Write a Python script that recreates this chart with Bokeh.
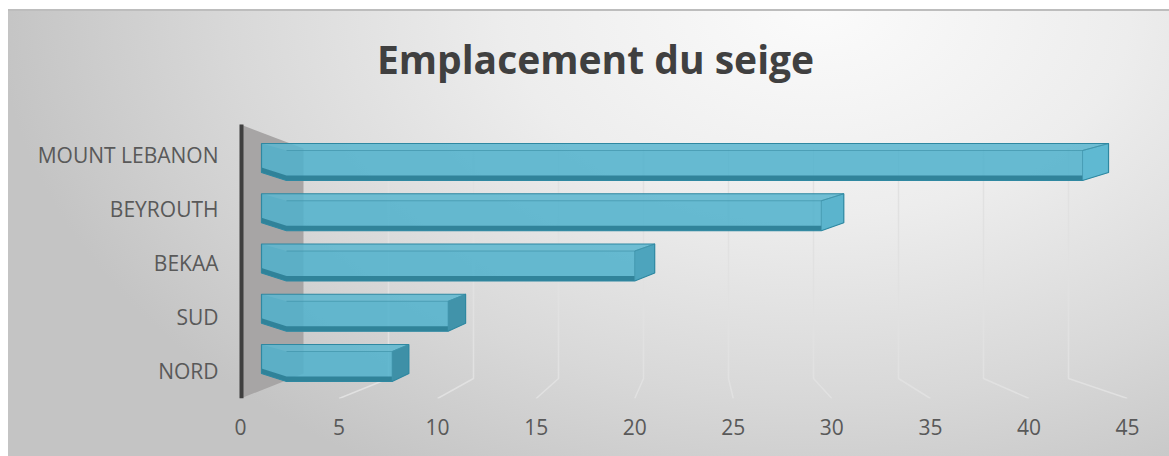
from bokeh.plotting import figure
from bokeh.models import Range1d, FixedTicker
from bokeh.core.properties import value
from bokeh.embed import file_html
from bokeh.resources import INLINE

# ---------------- data ----------------
categories = ["NORD", "SUD", "BEKAA", "BEYROUTH", "MOUNT LEBANON"]
values = [7, 10, 20, 30, 44]
x_ticks = [0, 5, 10, 15, 20, 25, 30, 35, 40, 45]
title_text = "Emplacement du seige"

# ---------------- geometry (page pixels) ----------------
WIN_W, WIN_H = 1169, 456
FRAME_L, FRAME_R, FRAME_T, FRAME_B = 236, 1127, 11, 398
AXIS_TOP = 124
FRONT0, FRONT45 = 240, 1127       # front (axis) plane
BACK0, BACK45 = 303, 1068         # back wall plane
FACE0, FACE_PX = 261, 18.66       # bar front-face plane
LAB0, LAB4 = 370, 154             # category label centres (row 0 / row 4)
BAR0, BAR4 = 366, 165             # bar face centres (row 0 / row 4)
WALL_TOP, FLOOR_BACK = 148, 378
TITLE_X, TITLE_Y = 595, 58


def xr(p0, v0, p1, v1):
    k = (v1 - v0) / (p1 - p0)
    return Range1d(v0 + (FRAME_L - p0) * k, v0 + (FRAME_R - p0) * k)


def yr(p0, v0, p1, v1):
    k = (v1 - v0) / (p1 - p0)
    return Range1d(v0 + (FRAME_B - p0) * k, v0 + (FRAME_T - p0) * k)


p = figure(
    width=WIN_W, height=WIN_H,
    x_range=xr(FRONT0, 0, FRONT45, 45),
    y_range=yr(LAB0, 0, LAB4, 4),
    output_backend="svg", toolbar_location=None,
    min_border_left=FRAME_L, min_border_right=WIN_W - FRAME_R,
    min_border_top=FRAME_T, min_border_bottom=WIN_H - FRAME_B,
    border_fill_color=None, background_fill_color=None,
    outline_line_color=None,
)
p.extra_x_ranges = {
    "back": xr(BACK0, 0, BACK45, 45),
    "face": xr(FACE0, 0, FACE0 + FACE_PX * 10, 10),
    "pxx": Range1d(FRAME_L, FRAME_R),
}
p.extra_y_ranges = {
    "bars": yr(BAR0, 0, BAR4, 4),
    "pxy": Range1d(FRAME_B, FRAME_T),
}

p.styles = {
    "background": (
        "linear-gradient(#bdbdbd,#bdbdbd) 8px 9px / 100% 2px no-repeat,"
        "linear-gradient(#c4c4c4,#c4c4c4) 8px 9px / 1px 100% no-repeat,"
        "linear-gradient(#ffffff,#ffffff) 0 0 / 100% 9px no-repeat,"
        "linear-gradient(#ffffff,#ffffff) 0 0 / 8px 100% no-repeat,"
        "radial-gradient(ellipse 820px 540px at 70% 2%, #fbfbfb 0%, #ededed 38%, #d8d8d8 72%, #c4c4c4 100%)"
    )
}

# ---------------- back wall + gridlines ----------------
p.patch([FRONT0, BACK0, BACK0, FRONT0], [AXIS_TOP, WALL_TOP, FLOOR_BACK - 5, FRAME_B],
        x_range_name="pxx", y_range_name="pxy",
        fill_color="#a7a5a5", line_color=None)

front_px = (FRONT45 - FRONT0) / 45
back_px = (BACK45 - BACK0) / 45
g_xs, g_ys = [], []
for t in x_ticks[1:]:
    bx = BACK0 + back_px * t
    fx = FRONT0 + front_px * t
    g_xs.append([bx, bx, fx])
    g_ys.append([WALL_TOP, FLOOR_BACK, FRAME_B])
p.multi_line(g_xs, g_ys, x_range_name="pxx", y_range_name="pxy",
             line_color="#e1e1e1", line_width=1.5)

# dark vertical axis line (category axis)
p.segment(x0=[FRONT0 + 1], y0=[AXIS_TOP], x1=[FRONT0 + 1], y1=[FRAME_B],
          x_range_name="pxx", y_range_name="pxy",
          line_color="#3f3f3f", line_width=4)

# ---------------- 3D-looking bars ----------------
BAR_PX = (BAR0 - BAR4) / 4
h = 15 / BAR_PX
up_t = 7 / BAR_PX
up_b = 8 / BAR_PX
dl = 25 / FACE_PX
band = 5 / BAR_PX
cap_colors = ["#3b8ca3", "#3d8fa6", "#4aa2ba", "#5ab4cc", "#5eb9d1"]

sil_x, sil_y, cap_x, cap_y, band_x, band_y, top_x, top_y = [], [], [], [], [], [], [], []
edge_x, edge_y = [], []
for i, v in enumerate(values):
    c = i
    dx = (15 + 0.25 * v) / FACE_PX
    tb = c + h + up_t
    bb = c - h + up_b
    sil_x.append([0, v + dx, v + dx, v, dl, 0])
    sil_y.append([tb, tb, bb, c - h, c - h, bb])
    top_x.append([0, v + dx, v, dl])
    top_y.append([tb, tb, c + h, c + h])
    cap_x.append([v, v + dx, v + dx, v])
    cap_y.append([c + h, tb, bb, c - h])
    band_x.append([0, dl, v, v, dl, 0])
    band_y.append([bb, c - h, c - h, c - h + band, c - h + band, bb + band])
    edge_x.append([dl, v, v + dx, v, v, v])
    edge_y.append([c + h, c + h, tb, c + h, c - h, c - h])

kw = dict(x_range_name="face", y_range_name="bars")
p.patches(sil_x, sil_y, fill_color="#4fb1cc", fill_alpha=0.86, line_color=None, **kw)
p.patches(top_x, top_y, fill_color="#ffffff", fill_alpha=0.07, line_color=None, **kw)
p.patches(cap_x, cap_y, fill_color=cap_colors, fill_alpha=0.9, line_color=None, **kw)
p.patches(band_x, band_y, fill_color="#2b7d94", fill_alpha=0.9, line_color=None, **kw)
p.multi_line(edge_x, edge_y, line_color="#3e93aa", line_width=1, line_alpha=0.7, **kw)
p.patches(sil_x, sil_y, fill_color=None, line_color="#2f88a1", line_width=1.2, **kw)

# ---------------- axes ----------------
p.xgrid.visible = False
p.ygrid.visible = False

xa = p.xaxis[0]
xa.ticker = FixedTicker(ticks=x_ticks)
xa.axis_line_color = None
xa.major_tick_line_color = None
xa.minor_tick_line_color = None
xa.major_label_text_font = "Open Sans"
xa.major_label_text_font_size = "21px"
xa.major_label_text_color = "#595959"
xa.major_label_standoff = 14

ya = p.yaxis[0]
ya.ticker = FixedTicker(ticks=list(range(len(categories))))
ya.major_label_overrides = {i: c for i, c in enumerate(categories)}
ya.axis_line_color = None
ya.major_tick_line_color = None
ya.minor_tick_line_color = None
ya.major_label_text_font = "Open Sans"
ya.major_label_text_font_size = "21px"
ya.major_label_text_color = "#595959"
ya.major_label_standoff = 12

# ---------------- title ----------------
p.text(x=[TITLE_X], y=[TITLE_Y], text=[title_text],
       x_range_name="pxx", y_range_name="pxy",
       text_align="center", text_baseline="alphabetic",
       text_font=value("Open Sans"), text_font_style="bold",
       text_font_size="39px", text_color="#404040")

open("out.html", "w").write(file_html(p, INLINE))
